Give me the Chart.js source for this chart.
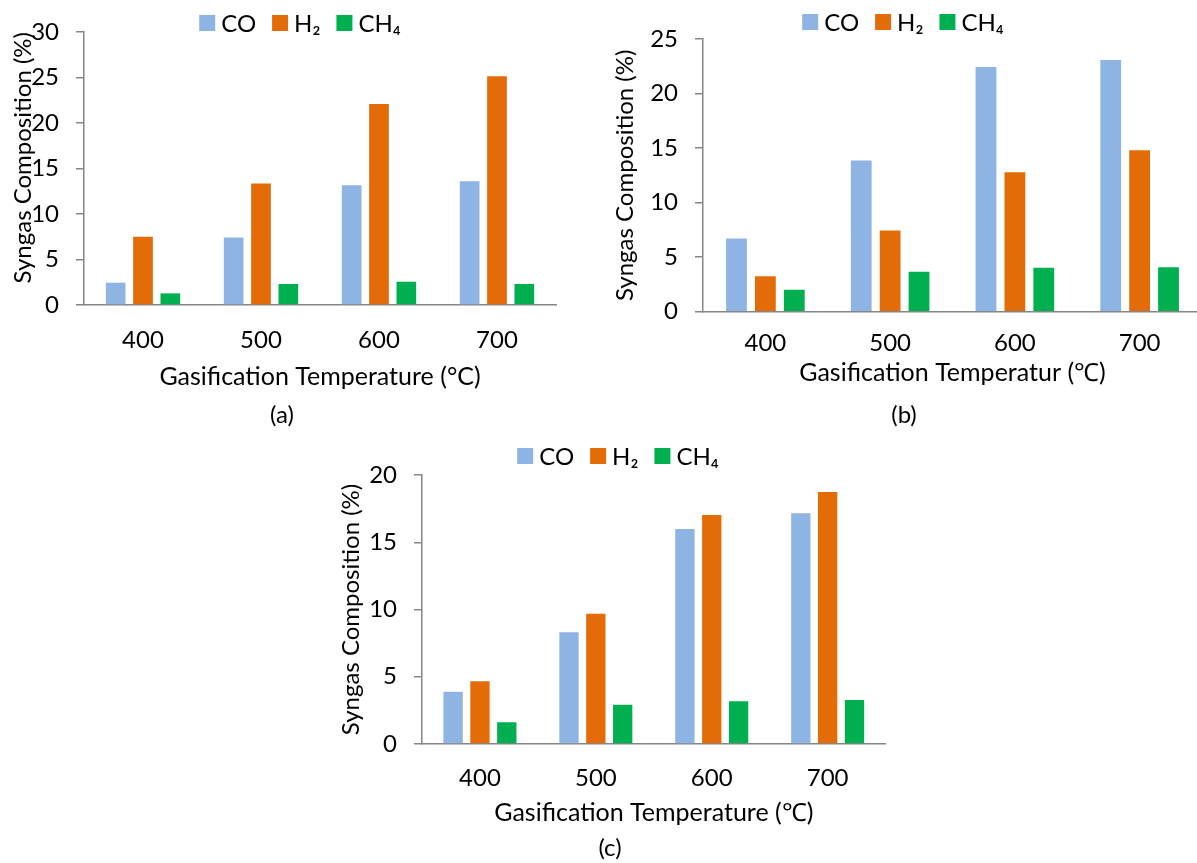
<!DOCTYPE html>
<html>
<head>
<meta charset="utf-8">
<title>Syngas composition vs gasification temperature</title>
<script src="https://cdn.jsdelivr.net/npm/chart.js@4.4.1/dist/chart.umd.min.js"></script>
<style>
  html, body { margin: 0; padding: 0; background: #fff; overflow: hidden; }
  body { width: 1197px; height: 863px; position: relative; }
  canvas { position: absolute; }
</style>
</head>
<body>
<canvas id="chartA" width="580" height="440" style="left:0;top:0"></canvas>
<canvas id="chartB" width="602" height="440" style="left:600px;top:0"></canvas>
<canvas id="chartC" width="580" height="423" style="left:330px;top:440px"></canvas>
<script>
  'use strict';

  // categories and series names
  var temps = ['400', '500', '600', '700'];
  var seriesNames = ['CO', 'H\u2082', 'CH\u2084'];

  // (a)
  var coA = [2.45, 7.43, 13.17, 13.61];
  var h2A = [7.50, 13.36, 22.10, 25.14];
  var ch4A = [1.28, 2.31, 2.56, 2.31];
  // (b)
  var coB = [6.70, 13.86, 22.43, 23.07];
  var h2B = [3.24, 7.44, 12.79, 14.81];
  var ch4B = [2.02, 3.67, 4.04, 4.07];
  // (c)
  var coC = [3.89, 8.30, 15.99, 17.15];
  var h2C = [4.66, 9.69, 17.03, 18.74];
  var ch4C = [1.61, 2.92, 3.17, 3.27];

  var yMax = { a: 30, b: 25, c: 20 };
  var yTitle = 'Syngas Composition (%)';
  var xTitles = {
    a: 'Gasification Temperature (\u00B0C)',
    b: 'Gasification Temperatur (\u2103)',
    c: 'Gasification Temperature (\u2103)'
  };

  var colors = ['#8EB4E3', '#E36C09', '#00B050'];
  var axisColor = '#868686';
  var textColor = '#000000';
  var FONT = 'Lato, "Open Sans", sans-serif';
  var fontSize = 24;
  var xTitleSize = 25;

  // legend + caption drawn on the canvas so they can sit where the original has them
  var legendCaption = {
    id: 'legendCaption',
    afterDraw: function(chart, args, opts) {
      var ctx = chart.ctx;
      var sets = chart.data.datasets;
      var box = 16, gapText = 6, gapItem = 16;
      ctx.save();
      ctx.font = fontSize + 'px ' + FONT;
      ctx.textBaseline = 'middle';
      var widths = sets.map(function(d) { return ctx.measureText(d.label).width; });
      var total = 0;
      widths.forEach(function(w) { total += box + gapText + w; });
      total += gapItem * (sets.length - 1);
      var x = opts.legendX - total / 2;
      sets.forEach(function(d, i) {
        ctx.fillStyle = d.backgroundColor;
        ctx.fillRect(x, opts.legendY - box / 2, box, box);
        x += box + gapText;
        ctx.fillStyle = textColor;
        ctx.textAlign = 'left';
        ctx.fillText(d.label, x, opts.legendY + 1);
        x += widths[i] + gapItem;
      });
      ctx.textAlign = 'center';
      ctx.fillStyle = textColor;
      ctx.fillText(opts.caption, opts.captionX, opts.captionY);
      ctx.restore();
    }
  };

  function makeChart(id, co, h2, ch4, max, xTitle, g) {
    return new Chart(document.getElementById(id), {
      type: 'bar',
      data: {
        labels: temps,
        datasets: [
          { label: seriesNames[0], data: co, backgroundColor: colors[0] },
          { label: seriesNames[1], data: h2, backgroundColor: colors[1] },
          { label: seriesNames[2], data: ch4, backgroundColor: colors[2] }
        ]
      },
      options: {
        responsive: false,
        animation: false,
        categoryPercentage: 0.695,
        barPercentage: 0.72,
        layout: { padding: { left: 0, top: g.top, right: g.padR, bottom: g.padB } },
        plugins: {
          legend: { display: false },
          tooltip: { enabled: false },
          legendCaption: {
            legendX: g.legendX, legendY: g.legendY,
            caption: g.caption, captionX: g.captionX, captionY: g.captionY
          }
        },
        scales: {
          x: {
            grid: { display: false, drawTicks: false },
            border: { display: true, color: axisColor, width: 1.5 },
            ticks: { padding: g.xPad, color: textColor, font: { family: FONT, size: fontSize } },
            title: {
              display: true, text: xTitle, color: textColor,
              padding: { top: 0, bottom: 0 },
              font: { family: FONT, size: xTitleSize }
            },
            afterFit: function(s) { s.height = g.xh; }
          },
          y: {
            min: 0, max: max,
            ticks: { stepSize: 5, padding: 17, color: textColor, font: { family: FONT, size: fontSize } },
            grid: { drawOnChartArea: false, drawTicks: true, tickLength: 8, color: axisColor, lineWidth: 1.5 },
            border: { display: true, color: axisColor, width: 1.5 },
            title: {
              display: true, text: yTitle, color: textColor, align: g.yAlign,
              padding: { top: g.yTitlePad, bottom: 0 },
              font: { family: FONT, size: fontSize }
            },
            afterFit: function(s) { s.width = g.yw; }
          }
        }
      },
      plugins: [legendCaption]
    });
  }

  makeChart('chartA', coA, h2A, ch4A, yMax.a, xTitles.a, {
    top: 32, padR: 24, padB: 48.4, xh: 86.6, xPad: 20.6, yw: 84, yTitlePad: 8.6, yAlign: 'end',
    legendX: 300, legendY: 23, caption: '(a)', captionX: 282, captionY: 415
  });
  makeChart('chartB', coB, h2B, ch4B, yMax.b, xTitles.b, {
    top: 39, padR: 0, padB: 51.7, xh: 76.6, xPad: 16.9, yw: 103, yTitlePad: 10.6, yAlign: 'center',
    legendX: 303, legendY: 22, caption: '(b)', captionX: 304, captionY: 415
  });
  makeChart('chartC', coC, h2C, ch4C, yMax.c, xTitles.c, {
    top: 35, padR: 24.4, padB: 35, xh: 84, xPad: 19.6, yw: 92, yTitlePad: 7.1, yAlign: 'center',
    legendX: 288, legendY: 16, caption: '(c)', captionX: 280, captionY: 408
  });
</script>
</body>
</html>
